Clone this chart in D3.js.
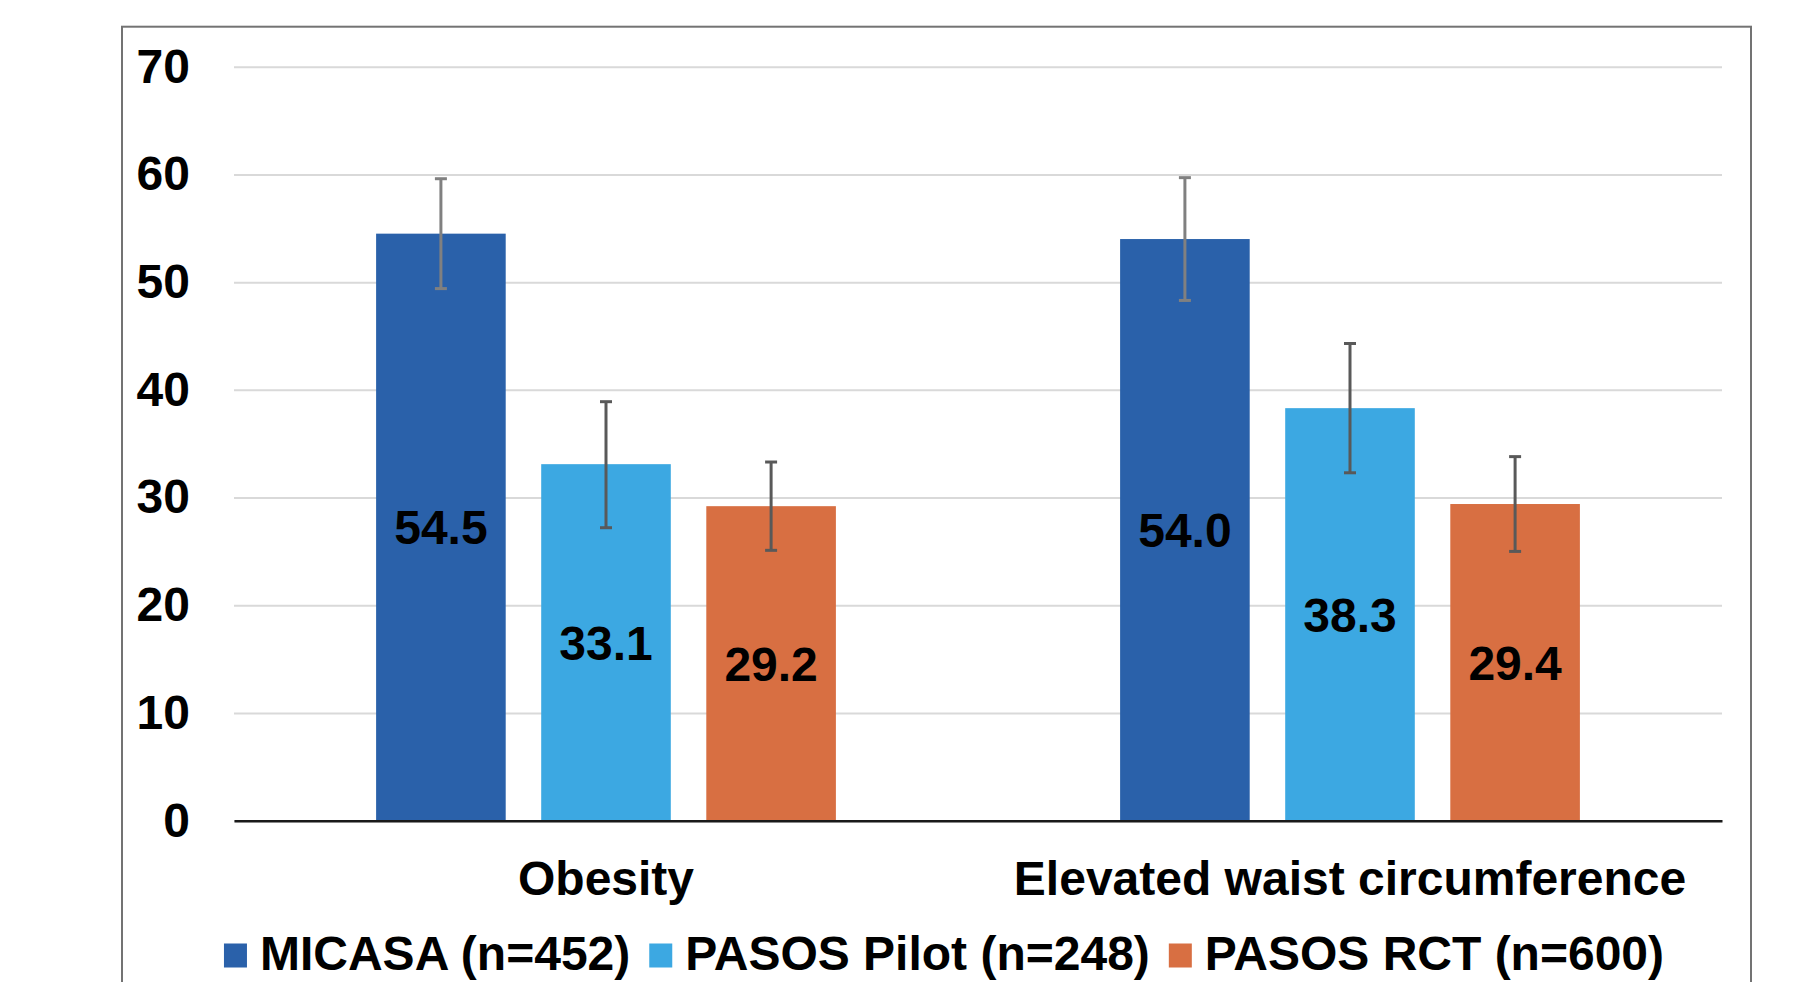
<!DOCTYPE html>
<html>
<head>
<meta charset="utf-8">
<script src="https://cdn.jsdelivr.net/npm/d3@7"></script>
<style>
  body { margin: 0; background: #fff; }
  text { font-family: "Liberation Sans", Arial, sans-serif; font-weight: bold; fill: #000; }
</style>
</head>
<body>
<div id="main"></div>
<script>
// Data
const categories = ['Obesity', 'Elevated waist circumference'];
const series = ['MICASA (n=452)', 'PASOS Pilot (n=248)', 'PASOS RCT (n=600)'];

const micasa = [54.5, 54.0];
const pilot = [33.1, 38.3];
const rct = [29.2, 29.4];

// error bar ends (low / high)
const micasaLow = [49.4, 48.3], micasaHigh = [59.6, 59.7];
const pilotLow = [27.2, 32.3], pilotHigh = [38.9, 44.3];
const rctLow = [25.1, 25.0], rctHigh = [33.3, 33.8];

const yTicks = [0, 10, 20, 30, 40, 50, 60, 70];

// Colours
const colors = ['#2a61aa', '#3ca8e2', '#d86f42'];
const errColors = ['#808080', '#595959', '#595959'];

const values = [micasa, pilot, rct];
const lows = [micasaLow, pilotLow, rctLow];
const highs = [micasaHigh, pilotHigh, rctHigh];

// flat table of bars
const bars = [];
categories.forEach((c, ci) => {
    series.forEach((s, si) => {
        bars.push({cat: c, ser: s, si: si, v: values[si][ci], lo: lows[si][ci], hi: highs[si][ci]});
    });
});

// Size of the SVG
const w = 1809;
const h = 982;
const plotLeft = 234, plotRight = 1722;
const plotTop = 66.7, plotBottom = 820.7;
const fs = '48px';

const svg = d3.select('#main')
    .append('svg')
    .attr('width', w)
    .attr('height', h);

// outer frame
svg.append('rect')
    .attr('x', 122)
    .attr('y', 26.7)
    .attr('width', 1629)
    .attr('height', 1000)
    .attr('fill', 'none')
    .attr('stroke', '#737373')
    .attr('stroke-width', 2);

const yScale = d3.scaleLinear()
    .domain([0, 70])
    .range([plotBottom, plotTop]);

const x0 = d3.scaleBand()
    .domain(categories)
    .range([plotLeft, plotRight])
    .paddingInner(0.382)
    .paddingOuter(0.191);

const x1 = d3.scaleBand()
    .domain(series)
    .range([0, x0.bandwidth()])
    .paddingInner(0.215);

// gridlines + y labels
const yAxis = d3.axisLeft(yScale)
    .tickValues(yTicks)
    .tickSize(-(plotRight - plotLeft))
    .tickPadding(44)
    .tickFormat(d3.format('d'));

const gy = svg.append('g')
    .attr('transform', `translate(${plotLeft},0)`)
    .call(yAxis);
gy.select('.domain').remove();
gy.selectAll('line').attr('stroke', '#d9d9d9').attr('stroke-width', 2);
gy.selectAll('text').style('font-size', fs).attr('fill', '#000');

// bars
svg.selectAll('rect.bar')
    .data(bars)
    .enter()
    .append('rect')
    .attr('class', 'bar')
    .attr('x', (d) => x0(d.cat) + x1(d.ser))
    .attr('y', (d) => yScale(d.v))
    .attr('width', x1.bandwidth())
    .attr('height', (d) => yScale(0) - yScale(d.v))
    .attr('fill', (d) => colors[d.si]);

// error bars
const eb = svg.selectAll('g.err')
    .data(bars)
    .enter()
    .append('g')
    .attr('class', 'err')
    .attr('stroke', (d) => errColors[d.si])
    .attr('stroke-width', 3);

const cx = (d) => x0(d.cat) + x1(d.ser) + x1.bandwidth() / 2;

eb.append('line')
    .attr('x1', cx).attr('x2', cx)
    .attr('y1', (d) => yScale(d.lo))
    .attr('y2', (d) => yScale(d.hi));
eb.append('line')
    .attr('x1', (d) => cx(d) - 6).attr('x2', (d) => cx(d) + 6)
    .attr('y1', (d) => yScale(d.hi)).attr('y2', (d) => yScale(d.hi));
eb.append('line')
    .attr('x1', (d) => cx(d) - 6).attr('x2', (d) => cx(d) + 6)
    .attr('y1', (d) => yScale(d.lo)).attr('y2', (d) => yScale(d.lo));

// value labels in the middle of each bar
svg.selectAll('text.val')
    .data(bars)
    .enter()
    .append('text')
    .attr('class', 'val')
    .attr('x', cx)
    .attr('y', (d) => yScale(d.v / 2))
    .attr('dy', '0.36em')
    .attr('text-anchor', 'middle')
    .style('font-size', fs)
    .text((d) => d3.format('.1f')(d.v));

// x axis
const xAxis = d3.axisBottom(x0).tickSize(0).tickSizeOuter(0).tickPadding(40);
const gx = svg.append('g')
    .attr('transform', `translate(0,${plotBottom})`)
    .call(xAxis);
gx.select('.domain').attr('stroke', '#1a1a1a').attr('stroke-width', 2.5);
gx.selectAll('text').style('font-size', fs).attr('fill', '#000');

// legend
const legend = svg.append('g');
let lx = 0;
series.forEach((s, i) => {
    const item = legend.append('g').attr('transform', `translate(${lx},0)`);
    item.append('rect')
        .attr('x', 0)
        .attr('y', 943.5)
        .attr('width', 23)
        .attr('height', 24)
        .attr('fill', colors[i]);
    const t = item.append('text')
        .attr('x', 36)
        .attr('y', 970)
        .style('font-size', fs)
        .text(s);
    lx += 36 + t.node().getComputedTextLength() + 19;
});
const legendWidth = lx - 19;
legend.attr('transform', `translate(${944 - legendWidth / 2},0)`);
</script>
</body>
</html>
